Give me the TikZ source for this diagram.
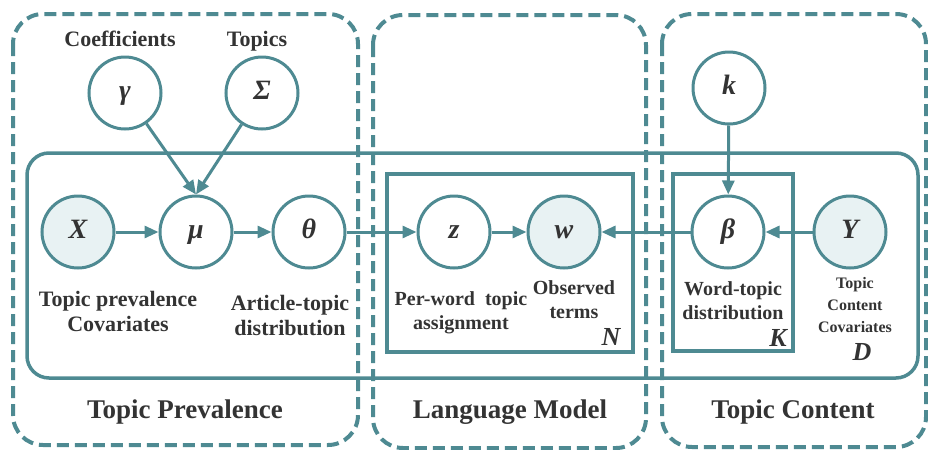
\documentclass[tikz,border=0pt]{standalone}
\usepackage{fontspec}
\setmainfont{Liberation Serif}
\usetikzlibrary{arrows.meta}

\definecolor{plate}{RGB}{78,138,146}
\definecolor{obsfill}{RGB}{232,242,243}
\definecolor{txt}{RGB}{51,51,51}

\tikzset{
  var/.style={circle, draw=plate, line width=1.5pt, fill=white, minimum size=36pt, inner sep=0pt, text=txt, text height=0.68em, text depth=0.05em, font=\fontsize{14}{14}\selectfont\bfseries\itshape},
  obs/.style={var, fill=obsfill},
  lbl/.style={text=txt, font=\fontsize{11}{12.5}\selectfont\bfseries, align=center, inner sep=0.75pt},
  innerlbl/.style={lbl, font=\fontsize{10}{12}\selectfont\bfseries},
  title/.style={text=txt, font=\fontsize{13.5}{15}\selectfont\bfseries, inner sep=0.75pt},
  idx/.style={text=txt, font=\fontsize{13}{13}\selectfont\bfseries\itshape, inner sep=0.75pt},
  edge/.style={draw=plate, line width=1.5pt, -{Triangle[length=7pt,width=6pt]}},
  region/.style={draw=plate, line width=2pt, dash pattern=on 6pt off 3pt, rounded corners=15pt},
  platebox/.style={draw=plate, line width=1.75pt},
}

\begin{document}
\begin{tikzpicture}[x=0.5pt,y=0.5pt,yscale=-1,xscale=1]
\useasboundingbox (0,0) rectangle (928,450);

%Shape: Dashed regions
\draw[region] (13,14) rectangle (358,445);
\draw[region] (373,15) rectangle (646,448);
\draw[region] (662,14) rectangle (926,447);

%Shape: Plates D, N, K
\draw[platebox, rounded corners=11pt] (27,153) rectangle (918,378);
\draw[platebox] (387,174) rectangle (633,352);
\draw[platebox] (673,174) rectangle (793,351);

%Shape: Circles
\node[var] (gamma) at (125,93) {γ};
\node[var] (sigma) at (262,93) {Σ};
\node[obs] (X) at (78,232) {X};
\node[var] (mu) at (196,232) {μ};
\node[var] (theta) at (309,232) {θ};
\node[var] (z) at (454,232) {z};
\node[obs] (w) at (564,232) {w};
\node[var] (k) at (729,88) {k};
\node[var] (beta) at (728,232) {β};
\node[obs] (Y) at (850,232) {Y};

%Straight Lines
\draw[edge] (gamma) -- (mu.north);
\draw[edge] (sigma) -- (mu.north);
\draw[edge] (X) -- (mu);
\draw[edge] (mu) -- (theta);
\draw[edge] (theta) -- (z);
\draw[edge] (z) -- (w);
\draw[edge] (beta) -- (w);
\draw[edge] (Y) -- (beta);
\draw[edge] (k) -- (beta);

% Text Node
\node[lbl, anchor=base] (coefL) at (120,46) {Coefficients};
\node[lbl, anchor=base] (topicsL) at (257,46) {Topics};
\node[lbl] (XL) at (118,311) {Topic prevalence\\Covariates};
\node[lbl] (thetaL) at (290,315) {Article-topic\\distribution};
\node[innerlbl] (zL) at (461,313) {Per-word\ \ topic\\assignment};
\node[innerlbl] (wL) at (574,300) {Observed\\terms};
\node[innerlbl] (betaL) at (733,301) {Word-topic\\distribution};
\node[lbl, font=\fontsize{8}{11}\selectfont\bfseries] (YL) at (855,305) {Topic\\Content\\Covariates};
\node[idx] (N) at (611,337) {N};
\node[idx] (K) at (778,338) {K};
\node[idx] (D) at (862,352) {D};

% Text Node
\node[title] (prevT) at (185,412) {Topic Prevalence};
\node[title] (langT) at (510,412) {Language Model};
\node[title] (contT) at (793,412) {Topic Content};

\end{tikzpicture}
\end{document}
